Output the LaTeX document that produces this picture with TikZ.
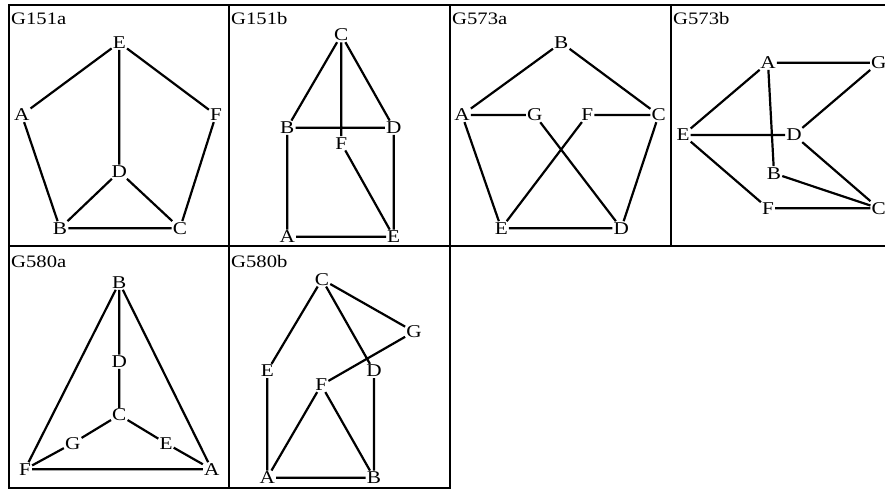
\documentclass[tikz,border=0pt]{standalone}
\usepackage{fontspec}
\usepackage{graphicx}
\setmainfont{Liberation Serif}
\newcommand{\wtxt}[1]{\scalebox{1.18}[1]{#1}}
\begin{document}
\begin{tikzpicture}[x=1pt,y=-1pt,
  v/.style={inner sep=1pt,font=\fontsize{18}{20}\selectfont},
  ttl/.style={inner sep=0pt,anchor=base west,font=\fontsize{17.5}{20}\selectfont},
  edge/.style={line width=2.2pt},
  frame/.style={line width=2.2pt}]
\useasboundingbox (0,0) rectangle (885,491);
\clip (0,0) rectangle (885,491);
% frames
\draw[frame] (9,5) rectangle (229,246);
\draw[frame] (229,5) rectangle (450,246);
\draw[frame] (450,5) rectangle (671,246);
\draw[frame] (671,5) rectangle (900,246);
\draw[frame] (9,246) rectangle (229,488);
\draw[frame] (229,246) rectangle (450,488);
% titles
\node[ttl] (t1) at (11,24) {\wtxt{G151a}};
\node[ttl] (t2) at (231,24) {\wtxt{G151b}};
\node[ttl] (t3) at (452,24) {\wtxt{G573a}};
\node[ttl] (t4) at (673,24) {\wtxt{G573b}};
\node[ttl] (t5) at (11,267) {\wtxt{G580a}};
\node[ttl] (t6) at (231,267) {\wtxt{G580b}};
% G151a
\node[v] (aE) at (119.3,42.7) {\wtxt{E}};
\node[v] (aA) at (21.7,115) {\wtxt{A}};
\node[v] (aF) at (216,115) {\wtxt{F}};
\node[v] (aD) at (119.3,171.7) {\wtxt{D}};
\node[v] (aB) at (60,228.3) {\wtxt{B}};
\node[v] (aC) at (180,228.3) {\wtxt{C}};
\draw[edge] (aE)--(aA) (aE)--(aF) (aE)--(aD) (aA)--(aB) (aF)--(aC) (aD)--(aB) (aD)--(aC) (aB)--(aC);
% G151b
\node[v] (bC) at (341.3,35) {\wtxt{C}};
\node[v] (bB) at (287.3,127.7) {\wtxt{B}};
\node[v] (bD) at (393.7,127.7) {\wtxt{D}};
\node[v] (bF) at (341.3,143.3) {\wtxt{F}};
\node[v] (bA) at (287.3,236.7) {\wtxt{A}};
\node[v] (bE) at (393.7,236.7) {\wtxt{E}};
\draw[edge] (bC)--(bB) (bC)--(bD) (bC)--(bF) (bB)--(bD) (bB)--(bA) (bD)--(bE) (bF)--(bE) (bA)--(bE);
% G573a
\node[v] (cB) at (561.3,42.7) {\wtxt{B}};
\node[v] (cA) at (462,115) {\wtxt{A}};
\node[v] (cG) at (534.7,115) {\wtxt{G}};
\node[v] (cF) at (587.3,115) {\wtxt{F}};
\node[v] (cC) at (658.7,115) {\wtxt{C}};
\node[v] (cE) at (501.3,228.3) {\wtxt{E}};
\node[v] (cD) at (621.3,228.3) {\wtxt{D}};
\draw[edge] (cB)--(cA) (cB)--(cC) (cA)--(cG) (cF)--(cC) (cA)--(cE) (cC)--(cD) (cE)--(cD) (cG)--(cD) (cF)--(cE);
% G573b
\node[v] (dA) at (768,62.7) {\wtxt{A}};
\node[v] (dG) at (878.7,62.7) {\wtxt{G}};
\node[v] (dE) at (683,135) {\wtxt{E}};
\node[v] (dD) at (794,135) {\wtxt{D}};
\node[v] (dB) at (774,173.3) {\wtxt{B}};
\node[v] (dF) at (768,208.3) {\wtxt{F}};
\node[v] (dC) at (878.7,208.3) {\wtxt{C}};
\draw[edge] (dA)--(dG) (dA)--(dE) (dA)--(dB) (dG)--(dD) (dE)--(dD) (dE)--(dF) (dD)--(dC) (dB)--(dC) (dF)--(dC);
% G580a
\node[v] (eB) at (119.3,282.7) {\wtxt{B}};
\node[v] (eD) at (119.3,361.7) {\wtxt{D}};
\node[v] (eC) at (119.3,415) {\wtxt{C}};
\node[v] (eG) at (72.7,443.3) {\wtxt{G}};
\node[v] (eE) at (166,443.3) {\wtxt{E}};
\node[v] (eF) at (25,469.3) {\wtxt{F}};
\node[v] (eA) at (211.7,469.3) {\wtxt{A}};
\draw[edge] (eB)--(eF) (eB)--(eA) (eB)--(eD) (eD)--(eC) (eC)--(eG) (eC)--(eE) (eG)--(eF) (eE)--(eA) (eF)--(eA);
% G580b
\node[v] (fC) at (322,279.3) {\wtxt{C}};
\node[v] (fG) at (414,331.7) {\wtxt{G}};
\node[v] (fE) at (267.3,371) {\wtxt{E}};
\node[v] (fD) at (374,371) {\wtxt{D}};
\node[v] (fF) at (321.3,385) {\wtxt{F}};
\node[v] (fA) at (267.3,477.7) {\wtxt{A}};
\node[v] (fB) at (374,477.7) {\wtxt{B}};
\draw[edge] (fC)--(fE) (fC)--(fD) (fC)--(fG) (fG)--(fF) (fE)--(fA) (fD)--(fB) (fF)--(fA) (fF)--(fB) (fA)--(fB);
\end{tikzpicture}
\end{document}
